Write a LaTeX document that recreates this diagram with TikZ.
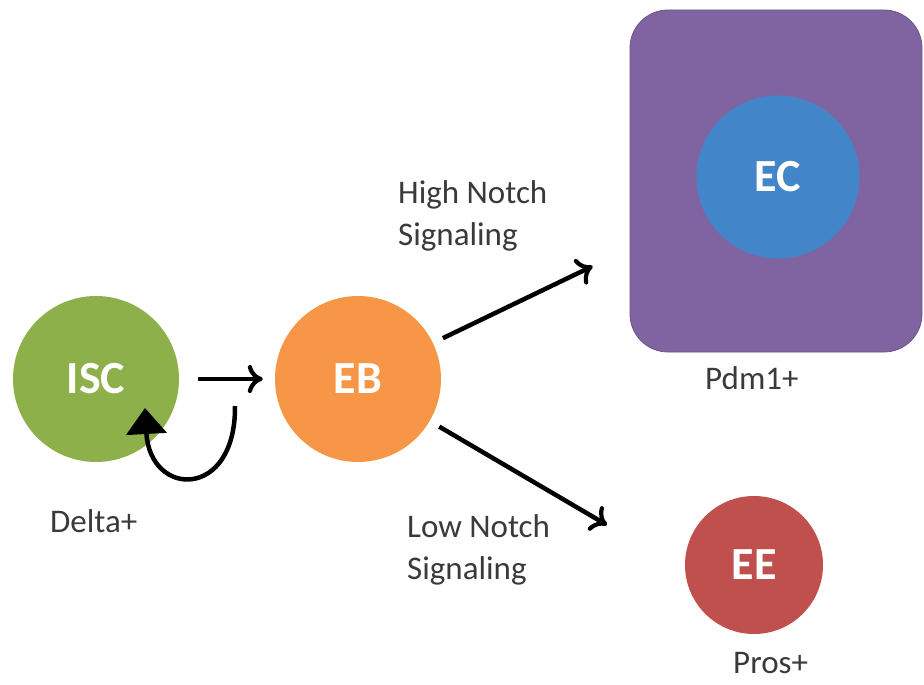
\documentclass[tikz,border=0pt]{standalone}
\usepackage{fontspec}
\setmainfont{Carlito}
\usetikzlibrary{arrows.meta}
\definecolor{iscgreen}{HTML}{8DB04A}
\definecolor{eborange}{HTML}{F79646}
\definecolor{ecpurple}{HTML}{8064A2}
\definecolor{ecblue}{HTML}{4286C9}
\definecolor{eered}{HTML}{C0504D}
\definecolor{txtgrey}{HTML}{3A3A3A}
\begin{document}
\begin{tikzpicture}[x=1pt,y=-1pt,
  cell/.style={circle,inner sep=0pt,text=white,font=\fontsize{46}{50}\selectfont\bfseries},
  lbl/.style={text=txtgrey,font=\fontsize{33}{42}\selectfont,inner sep=0pt,align=left},
  conn/.style={line width=4.5pt,-{To[length=15pt,width=28pt,line width=4.2pt]}}]
\useasboundingbox (0,0) rectangle (924,685);
\fill[white] (0,0) rectangle (924,685);
\node[draw=ecpurple!85!black,line width=0.8pt,fill=ecpurple,rounded corners=38pt,minimum width=292pt,minimum height=342pt] (box) at (776,181) {};
\node[cell,fill=iscgreen,minimum size=166pt] (isc) at (96,379) {ISC};
\node[cell,fill=eborange,minimum size=166pt] (eb) at (358,379) {EB};
\node[cell,fill=ecblue,minimum size=163pt] (ec) at (778,177) {EC};
\node[cell,fill=eered,minimum size=138pt] (ee) at (754,565) {EE};
\node[lbl,anchor=north west] (hi) at (398,180) {High Notch\\Signaling};
\node[lbl,anchor=north west] (lo) at (407,514) {Low Notch\\Signaling};
\node[lbl,anchor=north west] (delta) at (50,509) {Delta+};
\node[lbl,anchor=north west] (pdm) at (705,366) {Pdm1+};
\node[lbl,anchor=north west] (pros) at (733,652) {Pros+};
\coordinate (eeend) at (607,525);
\draw[conn,shorten <=19pt,shorten >=12pt] (isc.east) -- (eb.west);
\draw[conn,shorten <=11pt,shorten >=124pt] (eb) -- (ec);
\draw[conn,shorten <=11pt] (eb) -- (eeend);
\coordinate (loopstart) at (235,406);
\draw[line width=4.5pt,-{Triangle[length=26pt,width=40pt]}] (loopstart) .. controls (236,500) and (150,498) .. (145,408);
\end{tikzpicture}
\end{document}
